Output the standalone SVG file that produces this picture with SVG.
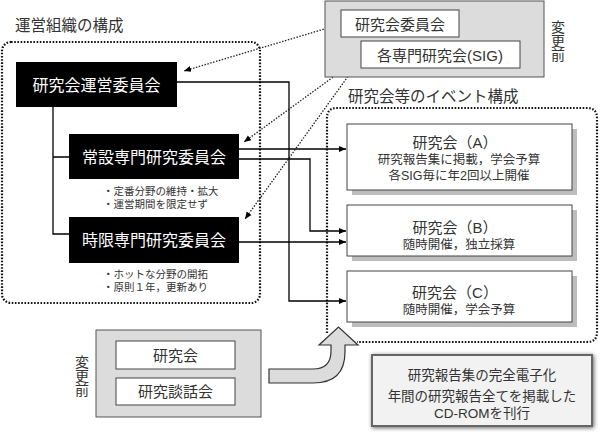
<svg xmlns="http://www.w3.org/2000/svg" width="600" height="436" viewBox="0 0 600 436">
<style>
text{font-family:"Liberation Sans","Noto Sans CJK JP",sans-serif;fill:#333}
.blk{fill:#000}
.wt{fill:#fff;font-size:16px;text-anchor:middle}
.ttl{font-size:15.5px}
.note{font-size:10.5px}
.cont{fill:none;stroke:#111;stroke-width:2.2;stroke-dasharray:1.6 1.6}
.gbox{fill:#dcdcdc;stroke:#555;stroke-width:1}
.wbox{fill:#fff;stroke:#444;stroke-width:1}
.ev{fill:#fff;stroke:#444;stroke-width:1}
.sh{fill:#bdbdbd}
.h{font-size:15px;text-anchor:middle}
.s{font-size:12.5px}
.ctr{text-anchor:middle}
.vt{font-size:14px;writing-mode:vertical-rl}
.c{fill:none;stroke:#000;stroke-width:1.3}
.d{fill:none;stroke:#222;stroke-width:1.3;stroke-dasharray:1.5 1.5}
</style>
<defs>
<marker id="ah" markerWidth="8" markerHeight="8" refX="7" refY="4" orient="auto" markerUnits="userSpaceOnUse"><path d="M0,1 L7,4 L0,7 Z" fill="#000"/></marker>
<filter id="glow" x="-10%" y="-20%" width="120%" height="140%"><feGaussianBlur in="SourceAlpha" stdDeviation="2"/><feOffset dx="1" dy="1"/><feComponentTransfer><feFuncA type="linear" slope="0.6"/></feComponentTransfer><feMerge><feMergeNode/><feMergeNode in="SourceGraphic"/></feMerge></filter>
</defs>

<text x="15" y="31" class="ttl">運営組織の構成</text>
<rect x="2" y="42" width="258" height="261" rx="9" class="cont"/>

<text x="348" y="102" class="ttl">研究会等のイベント構成</text>
<path d="M327,333 V118 Q327,108 337,108 H587 Q597,108 597,118 V332 Q597,342 587,342 H357" class="cont"/>

<g id="connectors">
<path d="M177,82 H289 V301 H346" class="c" marker-end="url(#ah)"/>
<path d="M239,149 H346" class="c" marker-end="url(#ah)"/>
<path d="M239,159 H310 V231 H346" class="c" marker-end="url(#ah)"/>
<path d="M239,242 H346" class="c" marker-end="url(#ah)"/>
<path d="M53,107 V234 H69 M53,157 H69" class="c"/>
<path d="M341,24 L184,71" class="d" marker-end="url(#ah)"/>
<path d="M362,56 L244,142" class="d" marker-end="url(#ah)"/>
<path d="M362,57 L245,219" class="d" marker-end="url(#ah)"/>
</g>

<g id="unei">
<rect x="16" y="62" width="161" height="45" class="blk"/>
<text x="96.5" y="90.5" class="wt">研究会運営委員会</text>
</g>
<g id="joset">
<rect x="69" y="134" width="170" height="45" class="blk"/>
<text x="154" y="162.5" class="wt">常設専門研究委員会</text>
<text class="note"><tspan x="103" y="195">・定番分野の維持・拡大</tspan><tspan x="103" y="208">・運営期間を限定せず</tspan></text>
</g>
<g id="jigen">
<rect x="69" y="217" width="170" height="46" class="blk"/>
<text x="154" y="246" class="wt">時限専門研究委員会</text>
<text class="note"><tspan x="103" y="278">・ホットな分野の開拓</tspan><tspan x="103" y="291">・原則１年，更新あり</tspan></text>
</g>

<g id="before-top">
<rect x="325" y="1" width="219" height="76" class="gbox"/>
<rect x="341" y="10" width="118" height="27" class="wbox"/>
<text x="400" y="30" class="h">研究会委員会</text>
<rect x="361" y="41" width="159" height="27" class="wbox"/>
<text x="440" y="61" class="h">各専門研究会(SIG)</text>
<text x="557" y="20" class="vt">変更前</text>
</g>

<g id="evA">
<rect x="352" y="129" width="225" height="66" class="sh"/>
<rect x="347" y="124" width="225" height="66" class="ev"/>
<text class="ctr"><tspan x="455" y="148" style="font-size:15px">研究会（A）</tspan><tspan x="459" y="164" class="s">研究報告集に掲載，学会予算</tspan><tspan x="459" y="180" class="s">各SIG毎に年2回以上開催</tspan></text>
</g>
<g id="evB">
<rect x="352" y="210" width="225" height="51" class="sh"/>
<rect x="347" y="205" width="225" height="51" class="ev"/>
<text class="ctr"><tspan x="455" y="233" style="font-size:15px">研究会（B）</tspan><tspan x="459" y="249" class="s">随時開催，独立採算</tspan></text>
</g>
<g id="evC">
<rect x="352" y="276" width="225" height="51" class="sh"/>
<rect x="347" y="271" width="225" height="51" class="ev"/>
<text class="ctr"><tspan x="455" y="298" style="font-size:15px">研究会（C）</tspan><tspan x="459" y="314" class="s">随時開催，学会予算</tspan></text>
</g>

<g id="before-bottom">
<rect x="96" y="330" width="165" height="87" class="gbox"/>
<rect x="116" y="341" width="119" height="28" class="wbox"/>
<text x="175.5" y="361" class="h">研究会</text>
<rect x="116" y="378" width="119" height="27" class="wbox"/>
<text x="175.5" y="397" class="h">研究談話会</text>
<text x="81" y="355" class="vt">変更前</text>
</g>

<g id="uarrow">
<path d="M269,369 H313 Q331,369 331,351 V345 H319 L338.5,327 L358,345 H345 V352 Q345,383 313,383 H269 Z" fill="#dcdcdc" stroke="#333" stroke-width="1.2"/>
</g>

<g id="cdrom">
<rect x="372" y="355" width="220" height="71" fill="#f2f2f2" stroke="#666" stroke-width="2" filter="url(#glow)"/>
<text class="ctr" style="font-size:13.5px"><tspan x="482" y="380">研究報告集の完全電子化</tspan><tspan x="482" y="401">年間の研究報告全てを掲載した</tspan><tspan x="482" y="418">CD-ROMを刊行</tspan></text>
</g>
</svg>
